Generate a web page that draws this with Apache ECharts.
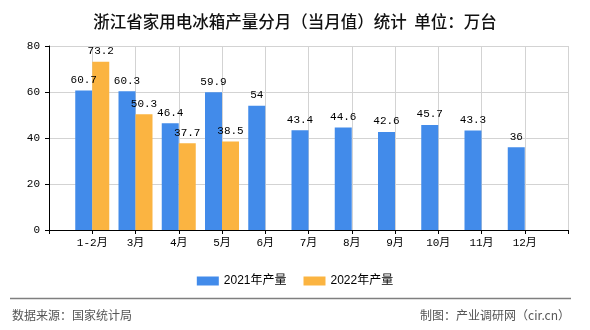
<!DOCTYPE html>
<html>
<head>
<meta charset="utf-8">
<script src="https://cdn.jsdelivr.net/npm/echarts@6/dist/echarts.min.js"></script>
<style>
html,body{margin:0;padding:0;background:#fff;}
#chart{width:590px;height:330px;}
</style>
</head>
<body>
<div id="chart"></div>
<script>
const title = '浙江省家用电冰箱产量分月（当月值）统计  单位：万台';
const categories = ['1-2月','3月','4月','5月','6月','7月','8月','9月','10月','11月','12月'];
const seriesNames = ['2021年产量','2022年产量'];
const values2021 = [60.7, 60.3, 46.4, 59.9, 54, 43.4, 44.6, 42.6, 45.7, 43.3, 36];
const values2022 = [73.2, 50.3, 37.7, 38.5, null, null, null, null, null, null, null];
const yTicks = [0, 20, 40, 60, 80];
const sourceText = '数据来源：国家统计局';
const makerText = '制图：产业调研网（cir.cn）';

const monoFont = '"Liberation Mono","Noto Sans CJK SC",monospace';
const cjkFont = '"Noto Sans CJK SC",sans-serif';

// pad categories so bars sit on ticks with a half-interval margin on each side
const axisData = [''].concat(categories, ['']);
const pad = arr => [null].concat(arr, [null]);

const chart = echarts.init(document.getElementById('chart'), null, {renderer:'canvas'});
const labelStyle = {
  show: true, position: 'top', distance: 5,
  color: '#000', fontSize: 11, fontFamily: monoFont,
  formatter: p => (p.value == null ? '' : String(p.value))
};
chart.setOption({
  animation: false,
  backgroundColor: '#fff',
  title: {
    text: title, left: 'center', top: 8,
    textStyle: {fontSize: 16.5, fontWeight: 500, color: '#111', fontFamily: cjkFont}
  },
  legend: {
    top: 270, left: 'center',
    itemWidth: 22, itemHeight: 9, itemGap: 17,
    icon: 'rect',
    textStyle: {fontSize: 12, color: '#000', fontFamily: '"Liberation Sans","Noto Sans CJK SC",sans-serif'},
    data: seriesNames
  },
  grid: {left: 49, right: 22, top: 46, bottom: 100, containLabel: false},
  xAxis: {
    type: 'category', data: axisData, boundaryGap: false,
    axisLine: {lineStyle: {color: '#000', width: 1}},
    axisTick: {show: true, length: 4, lineStyle: {color: '#000'}},
    axisLabel: {color: '#000', fontSize: 11, fontFamily: monoFont, margin: 8, interval: 0},
    splitLine: {show: true, lineStyle: {color: '#d3d3d3', width: 1}}
  },
  yAxis: {
    type: 'value', min: yTicks[0], max: yTicks[yTicks.length-1], interval: yTicks[1]-yTicks[0],
    axisLine: {show: true, lineStyle: {color: '#000', width: 1}},
    axisTick: {show: true, length: 4, lineStyle: {color: '#000'}},
    axisLabel: {color: '#000', fontSize: 11, fontFamily: monoFont, margin: 9},
    splitLine: {show: true, lineStyle: {color: '#d3d3d3', width: 1}}
  },
  series: [
    {name: seriesNames[0], type: 'bar', data: pad(values2021), barWidth: 17, barGap: '0%',
     itemStyle: {color: '#428bea'}, label: labelStyle},
    {name: seriesNames[1], type: 'bar', data: pad(values2022), barWidth: 17, barGap: '0%',
     itemStyle: {color: '#fbb441'}, label: labelStyle}
  ],
  graphic: [
    {type: 'line', shape: {x1: 10, y1: 298.5, x2: 571, y2: 298.5},
     style: {stroke: '#7f7f7f', lineWidth: 1.5}},
    {type: 'text', left: 12, top: 309,
     style: {text: sourceText, fontSize: 12, fill: '#555', fontFamily: cjkFont}},
    {type: 'text', right: 20, top: 309,
     style: {text: makerText, fontSize: 12, fill: '#555', fontFamily: cjkFont}}
  ]
});
</script>
</body>
</html>
